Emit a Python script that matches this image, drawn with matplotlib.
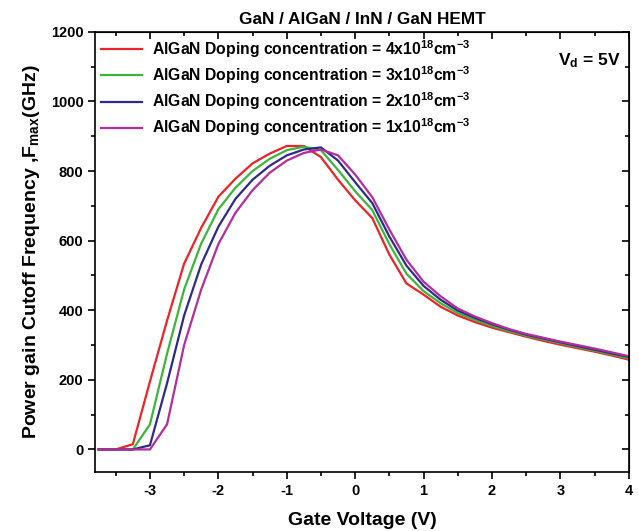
import numpy as np
import matplotlib.pyplot as plt
from matplotlib.ticker import MultipleLocator

plt.rcParams['font.family'] = ['Liberation Sans', 'DejaVu Sans']
plt.rcParams['font.weight'] = 'bold'
plt.rcParams['mathtext.fontset'] = 'custom'
plt.rcParams['mathtext.rm'] = 'Liberation Sans:bold'
plt.rcParams['mathtext.bf'] = 'Liberation Sans:bold'
plt.rcParams['mathtext.default'] = 'bf'
plt.rcParams['axes.unicode_minus'] = False

# gate voltage grid (V)
vg = np.arange(-3.75, 4.01, 0.25)

# Fmax (GHz)
f_4e18 = [0, 0, 15, 195, 370, 534, 637, 726, 778, 822, 850, 872, 872, 840, 775, 716,
          665, 560, 477, 445, 410, 385, 366, 350, 337, 324, 312, 301, 291, 281, 270, 258]
f_3e18 = [0, 0, 0, 72, 275, 460, 592, 690, 752, 800, 835, 860, 870, 860, 803, 742,
          688, 590, 505, 455, 420, 392, 372, 355, 340, 327, 316, 305, 294, 284, 273, 262]
f_2e18 = [0, 0, 0, 12, 190, 385, 532, 640, 720, 775, 815, 845, 862, 868, 830, 768,
          708, 612, 528, 470, 430, 399, 378, 360, 344, 330, 319, 308, 297, 287, 276, 266]
f_1e18 = [0, 0, 0, 0, 72, 300, 460, 590, 680, 745, 795, 830, 852, 862, 845, 790,
          725, 632, 545, 482, 440, 405, 382, 363, 346, 332, 321, 310, 300, 290, 279, 268]

labels = [r"AlGaN Doping concentration = 4x10$^{18}$cm$^{-3}$",
          r"AlGaN Doping concentration = 3x10$^{18}$cm$^{-3}$",
          r"AlGaN Doping concentration = 2x10$^{18}$cm$^{-3}$",
          r"AlGaN Doping concentration = 1x10$^{18}$cm$^{-3}$"]
colors = ['#ec2327', '#3db53a', '#2e2a8a', '#b52c9c']

fig = plt.figure(figsize=(6.39, 5.31), dpi=100)
ax = fig.add_axes([0.149, 0.111, 0.835, 0.829])

for f, lab, c in zip([f_4e18, f_3e18, f_2e18, f_1e18], labels, colors):
    ax.plot(vg, f, color=c, lw=1.6, label=lab)

ax.set_xlim(-3.8, 4)
ax.set_ylim(-65, 1200)
ax.xaxis.set_major_locator(MultipleLocator(1))
ax.xaxis.set_minor_locator(MultipleLocator(0.5))
ax.yaxis.set_major_locator(MultipleLocator(200))
ax.yaxis.set_minor_locator(MultipleLocator(100))
ax.tick_params(which='both', direction='out', width=1.2, labelsize=10.5)
ax.tick_params(which='major', length=5)
ax.tick_params(which='minor', length=3)
for s in ax.spines.values():
    s.set_linewidth(1.2)

# top / right ticks pointing in
axt = ax.secondary_xaxis('top')
axt.xaxis.set_major_locator(MultipleLocator(1))
axt.xaxis.set_minor_locator(MultipleLocator(0.5))
axt.tick_params(which='both', direction='in', labeltop=False, width=1.2)
axt.tick_params(which='major', length=5)
axt.tick_params(which='minor', length=3)
axr = ax.secondary_yaxis('right')
axr.yaxis.set_major_locator(MultipleLocator(200))
axr.yaxis.set_minor_locator(MultipleLocator(100))
axr.tick_params(which='both', direction='in', labelright=False, width=1.2)
axr.tick_params(which='major', length=5)
axr.tick_params(which='minor', length=3)

ax.set_xlabel("Gate Voltage (V)", fontsize=14, fontweight='bold', labelpad=10)
ax.set_ylabel(r"Power gain Cutoff Frequency ,F$_{max}$(GHz)", fontsize=14,
              fontweight='bold', labelpad=6)
ax.set_title("GaN / AlGaN / InN / GaN HEMT", fontsize=12.4, fontweight='bold', pad=6)

ax.legend(loc='upper left', frameon=False, fontsize=11.3, handlelength=2.6,
          handletextpad=0.6, labelspacing=0.28, borderaxespad=0.0,
          bbox_to_anchor=(0.0, 1.0))
ax.text(0.985, 0.935, r"V$_d$ = 5V", transform=ax.transAxes, ha='right', va='center',
        fontsize=12.5, fontweight='bold')

fig.savefig("out.png", dpi=100)
